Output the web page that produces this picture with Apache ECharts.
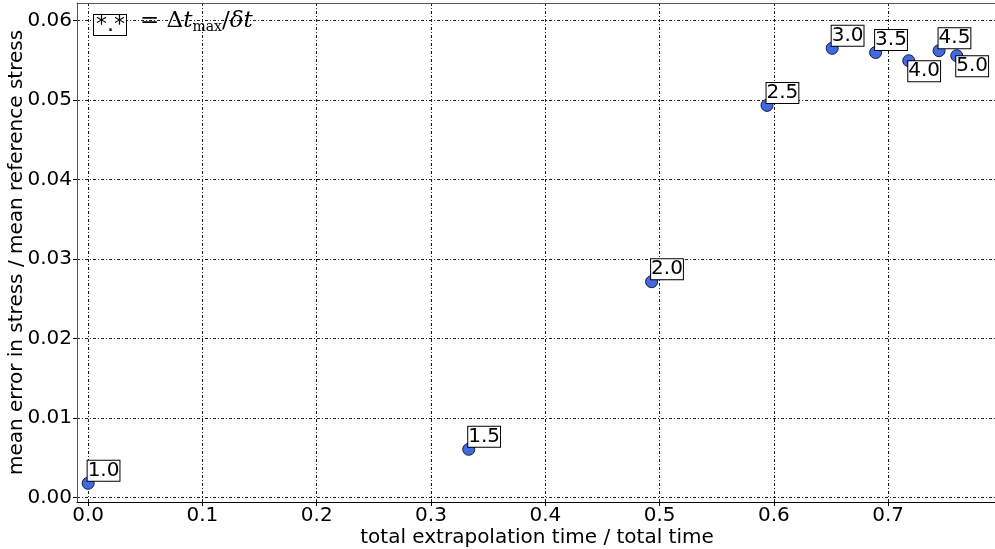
<!DOCTYPE html>
<html>
<head>
<meta charset="utf-8">
<script src="https://cdn.jsdelivr.net/npm/echarts@6/dist/echarts.min.js"></script>
<style>
html,body{margin:0;padding:0;background:#fff;}
#chart{width:995px;height:549px;}
</style>
</head>
<body>
<div id="chart"></div>
<script>
// ---- data ----
const extrapFraction = [0.000, 0.333, 0.493, 0.594, 0.651, 0.689, 0.718, 0.7445, 0.760];
const meanError      = [0.00181, 0.00609, 0.02717, 0.04935, 0.05653, 0.05600, 0.05497, 0.05623, 0.05560];
const pointLabels    = ['1.0', '1.5', '2.0', '2.5', '3.0', '3.5', '4.0', '4.5', '5.0'];
const xTickStep = 0.1;
const yTickStep = 0.01;

// labels drawn below-right of their point (others above-right)
const labelsBelow = ['4.0', '5.0'];

const FONT = 'DejaVu Sans';
const chart = echarts.init(document.getElementById('chart'), null, {renderer: 'canvas'});

const seriesData = extrapFraction.map((x, i) => {
  const below = labelsBelow.indexOf(pointLabels[i]) >= 0;
  return {
    value: [x, meanError[i]],
    name: pointLabels[i],
    label: below
      ? {position: [6, 7], verticalAlign: 'top', align: 'left'}
      : {position: [6, 4], verticalAlign: 'bottom', align: 'left'}
  };
});

const gridLine = {show: true, lineStyle: {color: '#222', width: 1, type: [3, 2, 1, 2]}};

const option = {
  animation: false,
  backgroundColor: '#fff',
  grid: {left: 77, right: -2, top: 3, bottom: 47, containLabel: false, outerBoundsMode: 'none'},
  xAxis: [{
    type: 'value',
    min: -0.00975,
    max: 0.7952,
    minInterval: xTickStep,
    maxInterval: xTickStep,
    splitNumber: 8,
    axisLine: {show: true, onZero: false, lineStyle: {color: '#000', width: 1}},
    axisTick: {show: true, inside: false, length: 4, lineStyle: {color: '#000'}},
    axisLabel: {show: true, margin: 4, fontFamily: FONT, fontSize: 20, color: '#000',
      showMinLabel: false, showMaxLabel: false,
      formatter: v => v.toFixed(1)},
    splitLine: gridLine,
    name: 'total extrapolation time / total time',
    nameLocation: 'middle',
    nameGap: 26,
    nameMoveOverlap: false,
    nameTextStyle: {fontFamily: FONT, fontSize: 20, color: '#000'}
  }, {
    type: 'value',
    position: 'top',
    min: -0.00975,
    max: 0.7952,
    axisLine: {show: true, onZero: false, lineStyle: {color: '#555', width: 1}},
    axisTick: {show: false},
    axisLabel: {show: false},
    splitLine: {show: false}
  }],
  yAxis: {
    type: 'value',
    min: -0.00054,
    max: 0.06223,
    minInterval: yTickStep,
    maxInterval: yTickStep,
    splitNumber: 6,
    axisLine: {show: true, onZero: false, lineStyle: {color: '#555', width: 1}},
    axisTick: {show: true, inside: false, length: 4, lineStyle: {color: '#000'}},
    axisLabel: {show: true, margin: 5, fontFamily: FONT, fontSize: 20, color: '#000',
      showMinLabel: false, showMaxLabel: false,
      formatter: v => v.toFixed(2)},
    splitLine: gridLine,
    name: 'mean error in stress / mean reference stress',
    nameLocation: 'middle',
    nameGap: 50,
    nameMoveOverlap: false,
    nameTextStyle: {fontFamily: FONT, fontSize: 20, color: '#000'}
  },
  series: [{
    type: 'scatter',
    xAxisIndex: 0,
    data: seriesData,
    symbol: 'circle',
    symbolSize: 12,
    itemStyle: {color: '#4169E1', borderColor: '#1a1a3a', borderWidth: 1, opacity: 1},
    label: {
      show: true,
      formatter: p => p.name,
      fontFamily: FONT,
      fontSize: 20,
      color: '#000',
      backgroundColor: '#fff',
      borderColor: '#000',
      borderWidth: 1,
      padding: [0, 0, 0, 0],
      lineHeight: 20
    },
    labelLayout: {hideOverlap: false},
    z: 5
  }],
  graphic: [{
    type: 'text',
    left: 93,
    top: 14,
    z: 10,
    style: {
      text: '*.*',
      font: '22px "DejaVu Sans"',
      fill: '#000',
      backgroundColor: '#fff',
      borderColor: '#000',
      borderWidth: 1,
      padding: [0, 1, -1, 2],
      lineHeight: 21
    }
  }, {
    type: 'text',
    left: 140,
    top: 10,
    z: 10,
    style: {
      rich: {
        n: {fontFamily: 'DejaVu Serif', fontSize: 23, fill: '#000'},
        i: {fontFamily: 'DejaVu Serif', fontStyle: 'italic', fontSize: 23, fill: '#000'},
        s: {fontFamily: 'DejaVu Serif', fontSize: 14, fill: '#000', verticalAlign: 'bottom', padding: [11, 0, 0, 0]}
      },
      text: '{n|= Δ}{i|t}{s|max}{n|/}{i|δt}'
    }
  }]
};
chart.setOption(option);
</script>
</body>
</html>
